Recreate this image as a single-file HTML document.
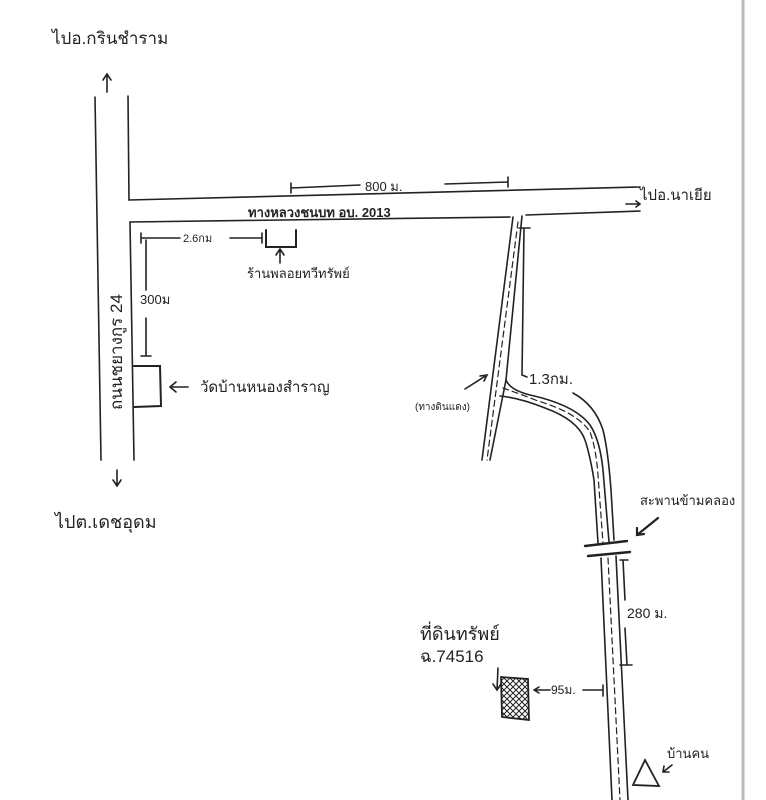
<!DOCTYPE html>
<html><head><meta charset="utf-8"><style>
html,body{margin:0;padding:0;background:#fff;}
svg{display:block;}
text{font-family:"Liberation Sans","Noto Sans CJK SC",sans-serif;fill:#222;}
</style></head><body>
<svg width="766" height="800" viewBox="0 0 766 800" xmlns="http://www.w3.org/2000/svg">
<rect width="766" height="800" fill="#fff"/>
<line x1="743" y1="0" x2="743" y2="800" stroke="#bbb" stroke-width="3"/>
<g fill="none" stroke="#222" stroke-width="1.6" stroke-linecap="round">
<!-- left road -->
<line x1="95" y1="97" x2="101" y2="460"/>
<line x1="128" y1="96" x2="129" y2="200"/>
<line x1="130" y1="222" x2="134" y2="460"/>
<!-- top road -->
<path d="M129,200 L640,187"/>
<path d="M130,222 L510,217"/>
<path d="M526,215 L640,211"/>
<!-- narrow road down -->
<path d="M513,217 L482,460"/>
<path d="M522,216 L506,380 L490,460"/>
<path d="M518,222 L487,460" stroke-dasharray="6,4" stroke-width="1.2"/>
<!-- curved road -->
<path d="M506,380 Q510,390 530,395 Q575,405 590,425 Q600,440 603,470 L609,542"/>
<path d="M500,396 Q520,398 545,408 Q578,420 585,440 Q590,455 594,480 L598,543"/>
<path d="M503,388 Q520,394 538,401 Q578,413 590,432 Q596,448 598,475 L603,543" stroke-dasharray="6,4" stroke-width="1.2"/>
<path d="M573,393 Q595,405 603,430 Q608,450 611,490 L614,540"/>
<!-- bridge -->
<line x1="585" y1="546" x2="627" y2="541" stroke-width="2.4"/>
<line x1="588" y1="556" x2="630" y2="552" stroke-width="2.4"/>
<!-- south road -->
<path d="M601,558 L612,800"/>
<path d="M616,556 L628,800"/>
<path d="M608,558 L620,800" stroke-dasharray="6,4" stroke-width="1.2"/>
<!-- dimension lines -->
<path d="M291,188 L360,185 M445,184 L508,182 M291,183 L291,193 M508,177 L508,187"/>
<path d="M141,233 L141,243 M141,238 L180,238 M230,238 L262,238 M262,233 L262,243"/>
<path d="M146,240 L146,290 M146,318 L146,356 M141,356 L151,356"/>
<path d="M524,228 L522,375 L527,377 M519,228 L530,228"/>
<path d="M623,560 L625,600 M625,628 L627,665 M620,665 L632,665 M620,560 L628,560"/>
<path d="M534,690 L550,690 M583,690 L603,690 M603,685 L603,696 M534,690 l5,-3 M534,690 l5,3"/>
<!-- boxes -->
<path d="M266,230 L266,247 L296,247 L296,230" stroke-width="2"/>
<path d="M134,366 L160,366 L161,406 L134,407" stroke-width="2"/>
<!-- arrows -->
<path d="M107,92 L107,75 M103,80 L107,74 L111,80"/>
<path d="M117,470 L117,485 M113,480 L117,486 L121,480"/>
<path d="M626,204 L640,204 M636,201 L640,204 L636,207"/>
<path d="M280,263 L280,250 M276,255 L280,249 L284,255"/>
<path d="M170,387 L188,387 M176,382 L170,387 L176,392"/>
<path d="M465,389 L487,375 M480,376 L487,375 L484,381"/>
<path d="M658,518 L637,535 M637,528 L637,535 L644,534" stroke-width="2.2"/>
<path d="M498,668 L497,690 M493,684 L497,690 L501,684"/>
<path d="M672,765 L663,772 M664,766 L663,772 L669,772"/>
<path d="M645,760 L633,785 L659,786 Z" stroke-width="1.8"/>
</g>
<!-- hatched box -->
<defs><pattern id="h" width="6" height="6" patternUnits="userSpaceOnUse"><path d="M0,0 L6,6 M6,0 L0,6" stroke="#222" stroke-width="1"/></pattern></defs>
<path d="M501,677 L528,679 L529,720 L502,717 Z" fill="url(#h)" stroke="#222" stroke-width="1.8"/>
<!-- labels -->
<text x="52" y="44" font-size="17">ไปอ.กรินชำราม</text>
<text x="640" y="200" font-size="15">ไปอ.นาเยีย</text>
<text x="55" y="528" font-size="18">ไปต.เดชอุดม</text>
<text x="365" y="191" font-size="13">800 ม.</text>
<text x="248" y="217" font-size="13" font-weight="bold">ทางหลวงชนบท อบ. 2013</text>
<text x="183" y="242" font-size="11">2.6กม</text>
<text x="247" y="278" font-size="13">ร้านพลอยทวีทรัพย์</text>
<text x="140" y="304" font-size="13">300ม</text>
<text x="200" y="392" font-size="15">วัดบ้านหนองสำราญ</text>
<text x="415" y="410" font-size="10">(ทางดินแดง)</text>
<text x="529" y="384" font-size="15">1.3กม.</text>
<text x="640" y="505" font-size="13">สะพานข้ามคลอง</text>
<text x="627" y="618" font-size="14">280 ม.</text>
<text x="420" y="640" font-size="18">ที่ดินทรัพย์</text>
<text x="420" y="662" font-size="17">ฉ.74516</text>
<text x="551" y="694" font-size="12">95ม.</text>
<text x="667" y="758" font-size="13">บ้านคน</text>
<text transform="translate(122,410) rotate(-90)" font-size="17">ถนนชยางกูร 24</text>
</svg>
</body></html>
